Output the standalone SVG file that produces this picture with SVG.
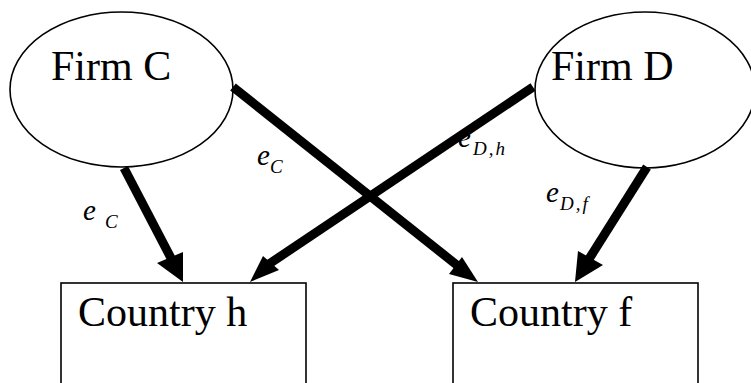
<svg xmlns="http://www.w3.org/2000/svg" width="751" height="383" viewBox="0 0 751 383">
<style>
.node{fill:#fff;stroke:#000;stroke-width:1.6}
.lbl{font-family:"Liberation Serif","Times New Roman",serif;font-size:42px;fill:#000}
.e{font-family:"Liberation Serif","Times New Roman",serif;font-style:italic;font-size:29px;fill:#000}
.sub{font-family:"Liberation Serif","Times New Roman",serif;font-style:italic;font-size:19px;fill:#000}
.sp{letter-spacing:2px}
.edge{stroke:#000;stroke-width:9;fill:none}
.head{fill:#000;stroke:none}
</style>
<rect width="751" height="383" fill="#fff"/>
<g id="firmC">
<ellipse class="node" cx="121.5" cy="89.5" rx="111.5" ry="77.5"/>
<text class="lbl" x="51" y="80">Firm C</text>
</g>
<g id="firmD">
<ellipse class="node" cx="645" cy="90" rx="110" ry="78"/>
<text class="lbl" x="551" y="80">Firm D</text>
</g>
<g id="countryH">
<rect class="node" x="61" y="283" width="245" height="110"/>
<text class="lbl" x="78" y="326">Country h</text>
</g>
<g id="countryF">
<rect class="node" x="453" y="283" width="245" height="110"/>
<text class="lbl" x="470" y="326">Country f</text>
</g>
<g id="labels">
<text class="e" x="83" y="220">e</text><text class="sub" x="105" y="228">C</text>
<text class="e" x="257" y="165">e</text><text class="sub" x="270" y="173">C</text>
<text class="e" x="458" y="147">e</text><text class="sub sp" x="473" y="155">D,h</text>
<text class="e" x="546" y="202">e</text><text class="sub sp" x="560" y="210">D,f</text>
</g>
<g id="connectors">
<line class="edge" x1="124" y1="168" x2="172" y2="260"/>
<polygon class="head" points="183,282 157,263 183,252"/>
<line class="edge" x1="233" y1="87" x2="458" y2="266"/>
<polygon class="head" points="478,282 462,257 449,274"/>
<line class="edge" x1="533" y1="87" x2="269" y2="264"/>
<polygon class="head" points="250,282 263,256 279,270"/>
<line class="edge" x1="647" y1="167" x2="589" y2="259"/>
<polygon class="head" points="575,282 578,251 603,265"/>
</g>
</svg>
